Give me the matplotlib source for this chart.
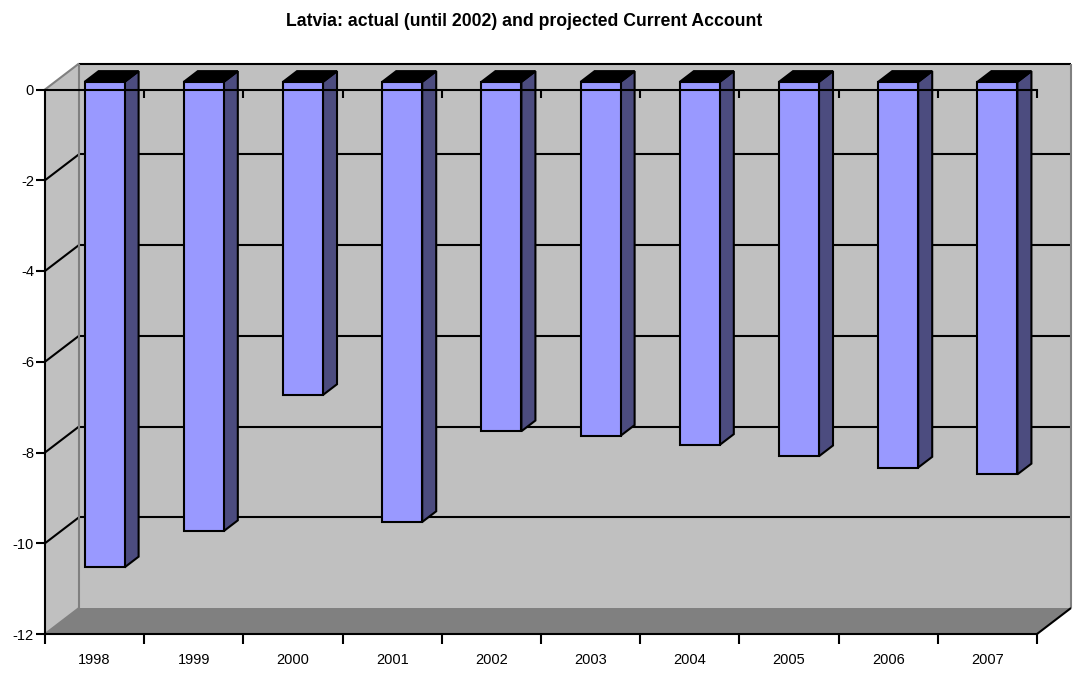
import matplotlib
matplotlib.use("Agg")
import matplotlib.pyplot as plt
from matplotlib.patches import Polygon
from matplotlib.lines import Line2D
from matplotlib.ticker import FixedLocator, NullFormatter, FixedFormatter

plt.rcParams["font.family"] = ["Liberation Sans", "DejaVu Sans"]
plt.rcParams["axes.unicode_minus"] = False

# ---- data -------------------------------------------------------------
years = ["1998", "1999", "2000", "2001", "2002",
         "2003", "2004", "2005", "2006", "2007"]
current_account = [-10.7, -9.9, -6.9, -9.7, -7.7,
                   -7.8, -8.0, -8.25, -8.5, -8.65]
y_ticks = [0, -2, -4, -6, -8, -10, -12]
title = "Latvia: actual (until 2002) and projected Current Account"

# ---- styling ----------------------------------------------------------
FRONT = "#9999FF"
SIDE = "#4C4C7F"
TOP = "#000000"
WALL = "#C0C0C0"
FLOOR = "#808080"
EDGE = "#808080"
LW = 1.5

# oblique depth of the 3-D box, in data units (x: categories, y: value)
DEPTH_X = 0.343
DEPTH_Y = 0.573
BAR_FRONT = 0.294   # depth fraction of the bar front faces
BAR_BACK = 0.706    # depth fraction of the bar back faces
BAR_W = 0.403

n = len(years)
ymin, ymax = -12, 0

W, H = 1073, 673
fig = plt.figure(figsize=(W / 100, H / 100), dpi=100)
ax = fig.add_axes([45 / W, (H - 634) / H, (1037 - 45) / W, (634 - 89.5) / H])
ax.set_xlim(0, n)
ax.set_ylim(ymin, ymax)
ax.patch.set_visible(False)


def at(x, y, t):
    """Point (x, y) pushed back to depth fraction t."""
    return (x + t * DEPTH_X, y + t * DEPTH_Y)


def poly(points, fc, ec="none", lw=0, z=1):
    p = Polygon(points, closed=True, facecolor=fc, edgecolor=ec,
                linewidth=lw, joinstyle="miter", clip_on=False, zorder=z)
    ax.add_patch(p)


def seg(p0, p1, color="black", lw=LW, z=1.5):
    ax.add_line(Line2D([p0[0], p1[0]], [p0[1], p1[1]], color=color,
                       linewidth=lw, clip_on=False, zorder=z,
                       solid_capstyle="butt"))


# walls and floor
poly([at(0, ymin, 1), at(n, ymin, 1), at(n, ymax, 1), at(0, ymax, 1)], WALL, z=0.5)
poly([at(0, ymin, 0), at(0, ymin, 1), at(0, ymax, 1), at(0, ymax, 0)], WALL, z=0.5)
poly([at(0, ymin, 0), at(n, ymin, 0), at(n, ymin, 1), at(0, ymin, 1)], FLOOR, z=0.6)

# gridlines: back wall + left wall diagonals
for v in y_ticks:
    if v == ymin:
        continue
    seg(at(0, v, 1), at(n, v, 1), z=0.8)
    if v != ymax:
        seg(at(0, v, 0), at(0, v, 1), z=0.8)

# wall edges
seg(at(0, ymax, 0), at(0, ymax, 1), color=EDGE, z=0.9)
seg(at(0, ymin, 0), at(0, ymin, 1), color=EDGE, z=0.9)
seg(at(0, ymin, 1), at(0, ymax, 1), color=EDGE, z=0.9)
seg(at(n, ymin, 1), at(n, ymax, 1), color=EDGE, z=0.9)
seg(at(n, ymin, 0), at(n, ymin, 1), color="black", z=3)

# bars hanging from zero
for i, v in enumerate(current_account):
    xl = i + 0.5 - BAR_W / 2
    xr = i + 0.5 + BAR_W / 2
    f, b = BAR_FRONT, BAR_BACK
    poly([at(xr, 0, f), at(xr, 0, b), at(xr, v, b), at(xr, v, f)],
         SIDE, "black", LW, z=2)
    poly([at(xl, 0, f), at(xr, 0, f), at(xr, 0, b), at(xl, 0, b)],
         TOP, "black", LW, z=2)
    poly([at(xl, v, f), at(xr, v, f), at(xr, 0, f), at(xl, 0, f)],
         FRONT, "black", LW, z=2.1)

# axes: left value axis and bottom category axis
for s in ("top", "right"):
    ax.spines[s].set_visible(False)
for s in ("left", "bottom"):
    ax.spines[s].set_linewidth(LW)
    ax.spines[s].set_color("black")
    ax.spines[s].set_zorder(3)

ax.set_yticks(y_ticks)
ax.set_yticklabels([str(t) for t in y_ticks])
ax.tick_params(axis="y", direction="out", length=6.5, width=LW, pad=1.5,
               labelsize=10.5, colors="black")

ax.xaxis.set_major_locator(FixedLocator(list(range(n + 1))))
ax.xaxis.set_major_formatter(NullFormatter())
ax.xaxis.set_minor_locator(FixedLocator([i + 0.5 for i in range(n)]))
ax.xaxis.set_minor_formatter(FixedFormatter(years))
ax.tick_params(axis="x", which="major", direction="out", length=7.2, width=LW)
ax.tick_params(axis="x", which="minor", length=0, pad=13.5, labelsize=10.5,
               colors="black")

# zero line with inward ticks, drawn over the bars
ax2 = ax.twiny()
ax2.set_xlim(0, n)
for s in ("left", "right", "bottom"):
    ax2.spines[s].set_visible(False)
ax2.spines["top"].set_linewidth(LW)
ax2.spines["top"].set_color("black")
ax2.xaxis.set_major_locator(FixedLocator(list(range(1, n + 1))))
ax2.xaxis.set_major_formatter(NullFormatter())
ax2.tick_params(axis="x", which="major", direction="in", length=5.8, width=LW)

fig.text(524.5 / W, 1 - 21 / H, title, ha="center", va="center",
         fontsize=12.7, fontweight="bold")

fig.savefig("out.png", dpi=100)
